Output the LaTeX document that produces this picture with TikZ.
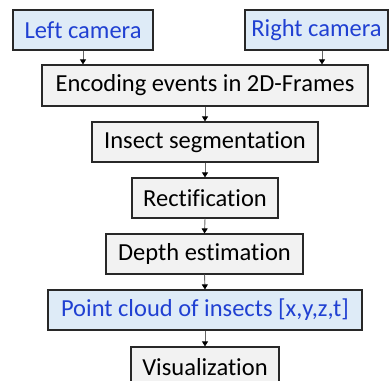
\documentclass[tikz,border=0pt]{standalone}
\usepackage{fontspec}
\setmainfont{Carlito}[Ligatures=NoCommon]
\usetikzlibrary{arrows.meta,calc}
\definecolor{grayfill}{RGB}{242,242,242}
\definecolor{bluefill}{RGB}{222,235,247}
\definecolor{bluetext}{RGB}{32,64,210}
\definecolor{edgecol}{RGB}{40,40,40}
\tikzset{
  box/.style={draw=edgecol,line width=1.2pt,fill=grayfill,minimum height=40pt,inner sep=0pt,font=\fontsize{24.5}{28}\selectfont,text=black},
  bluebox/.style={box,fill=bluefill,text=bluetext},
  flow/.style={draw=gray!80!black,line width=0.9pt,-{Triangle[length=5pt,width=6pt,color=black]}}
}
\begin{document}
\begin{tikzpicture}[x=1pt,y=1pt]
\clip (0,0) rectangle (390,-380);
\fill[white] (0,0) rectangle (390,-380);
\node[bluebox,minimum width=140pt] (left) at (83,-30) {Left camera};
\node[bluebox,minimum width=143pt] (right) at (316.5,-30) {Right camera};
\node[box,minimum width=326pt,minimum height=41pt] (enc) at (205,-85.5) {Encoding events in 2D-Frames};
\node[box,minimum width=226pt] (seg) at (205,-142) {Insect segmentation};
\node[box,minimum width=146pt] (rect) at (205,-198) {Rectification};
\node[box,minimum width=197pt] (depth) at (204.5,-254) {Depth estimation};
\node[bluebox,minimum width=314pt] (pc) at (205,-310) {Point cloud of insects [x,y,z,t]};
\node[box,minimum width=148pt] (vis) at (205,-367) {Visualization};
\draw[flow] (left.south) -- (left.south |- enc.north);
\draw[flow] ([xshift=5.5pt]right.south) -- ([xshift=5.5pt]right.south |- enc.north);
\draw[flow] (enc.south) -- (seg.north);
\draw[flow] (seg.south) -- (rect.north);
\draw[flow] (rect.south) -- (depth.north);
\draw[flow] (depth.south) -- (pc.north);
\draw[flow] (pc.south) -- (vis.north);
\end{tikzpicture}
\end{document}
